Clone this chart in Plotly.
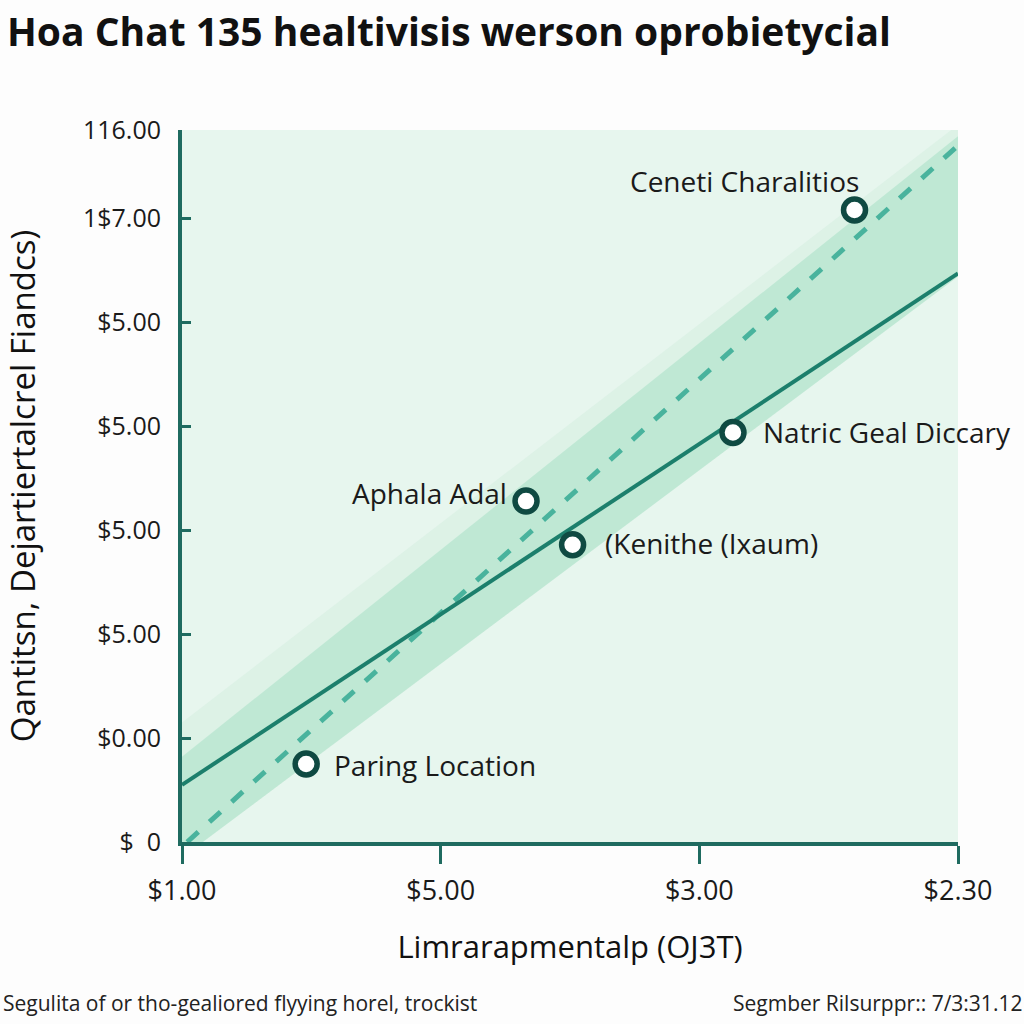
import plotly.graph_objects as go

# ---- data ----
x_tick_vals = [0, 1, 2, 3]
x_tick_text = ["$1.00", "$5.00", "$3.00", "$2.30"]
y_tick_vals = [0, 1, 2, 3, 4, 5, 6, 6.85]
y_tick_text = ["$  0", "$0.00", "$5.00", "$5.00", "$5.00", "$5.00", "1$7.00", "116.00"]

point_names = ["Paring Location", "Aphala Adal", "(Kenithe (Ixaum)", "Natric Geal Diccary", "Ceneti Charalitios"]
point_x = [0.48, 1.33, 1.51, 2.13, 2.60]
point_y = [0.75, 3.28, 2.86, 3.94, 6.08]

solid_x = [0, 3]
solid_y = [0.55, 5.47]
dashed_x = [0.02, 3]
dashed_y = [0.0, 6.70]

band_x = [0, 3]
band_upper = [0.82, 6.79]
band_lower = [-0.15, 5.44]
outer_upper = [1.15, 6.9]

fig = go.Figure()

# outer light band
fig.add_trace(go.Scatter(
    x=band_x + band_x[::-1], y=outer_upper + band_lower[::-1],
    fill="toself", fillcolor="rgba(200,232,215,0.32)", line=dict(width=0),
    mode="lines", hoverinfo="skip", showlegend=False))
# medium band
fig.add_trace(go.Scatter(
    x=band_x + band_x[::-1], y=band_upper + band_lower[::-1],
    fill="toself", fillcolor="rgba(150,220,188,0.42)", line=dict(width=0),
    mode="lines", hoverinfo="skip", showlegend=False))
# dashed line
fig.add_trace(go.Scatter(x=dashed_x, y=dashed_y, mode="lines",
                         line=dict(color="#49b39d", width=5, dash="dash"),
                         showlegend=False, hoverinfo="skip"))
# solid line
fig.add_trace(go.Scatter(x=solid_x, y=solid_y, mode="lines",
                         line=dict(color="#1c7f6c", width=4),
                         showlegend=False, hoverinfo="skip"))
# points
fig.add_trace(go.Scatter(x=point_x, y=point_y, mode="markers",
                         marker=dict(size=22, color="white",
                                     line=dict(color="#0f4a42", width=5.5)),
                         showlegend=False))

label_font = dict(family="Open Sans, sans-serif", size=28, color="#1a1a1a")
offsets = [
    (dict(xanchor="left", xshift=26, yshift=-1)),
    (dict(xanchor="right", xshift=-17, yshift=8)),
    (dict(xanchor="left", xshift=30, yshift=2)),
    (dict(xanchor="left", xshift=28, yshift=0)),
    (dict(xanchor="center", xshift=-110, yshift=29)),
]
for name, px, py, off in zip(point_names, point_x, point_y, offsets):
    fig.add_annotation(x=px, y=py, text=name, showarrow=False,
                       font=label_font, yanchor="middle", **off)

# title and footers
fig.add_annotation(xref="paper", yref="paper", x=-0.228, y=1.14,
                   text="<b>Hoa Chat 135 healtivisis werson oprobietycial</b>",
                   showarrow=False, xanchor="left", yanchor="middle",
                   font=dict(family="Open Sans, sans-serif", size=39, color="#111"))
fig.add_annotation(xref="paper", yref="paper", x=-0.233, y=-0.226,
                   text="Segulita of or tho-gealiored flyying horel, trockist",
                   showarrow=False, xanchor="left", yanchor="middle",
                   font=dict(family="Open Sans, sans-serif", size=21, color="#222"))
fig.add_annotation(xref="paper", yref="paper", x=1.085, y=-0.226,
                   text="Segmber Rilsurppr:: 7/3:31.12",
                   showarrow=False, xanchor="right", yanchor="middle",
                   font=dict(family="Open Sans, sans-serif", size=21, color="#222"))

axis_color = "#1f6b60"
fig.update_layout(
    width=1024, height=1024,
    margin=dict(l=182, r=66, t=130, b=182),
    paper_bgcolor="#fdfdfd",
    plot_bgcolor="#e7f6ee",
    font=dict(family="Open Sans, sans-serif", color="#1a1a1a"),
    xaxis=dict(range=[0, 3], tickvals=x_tick_vals, ticktext=x_tick_text,
               showgrid=False, zeroline=False, showline=True, linecolor=axis_color,
               linewidth=4, ticks="outside", ticklen=18, tickwidth=3, tickcolor=axis_color,
               tickfont=dict(size=27, color="#1a1a1a"), ticklabelstandoff=4,
               title=dict(text="Limrarapmentalp (OJ3T)", font=dict(size=31, color="#111"),
                          standoff=30)),
    yaxis=dict(range=[0, 6.85], tickvals=y_tick_vals, ticktext=y_tick_text,
               showgrid=False, zeroline=False, showline=True, linecolor=axis_color,
               linewidth=4, ticks="inside", ticklen=9, tickwidth=3, tickcolor=axis_color,
               tickfont=dict(size=25, color="#1a1a1a"), ticklabelstandoff=12,
               title=dict(text="Qantitsn, Dejartiertalcrel Fiandcs)", font=dict(size=33, color="#111"),
                          standoff=42)),
)

fig.write_html("out.html")
